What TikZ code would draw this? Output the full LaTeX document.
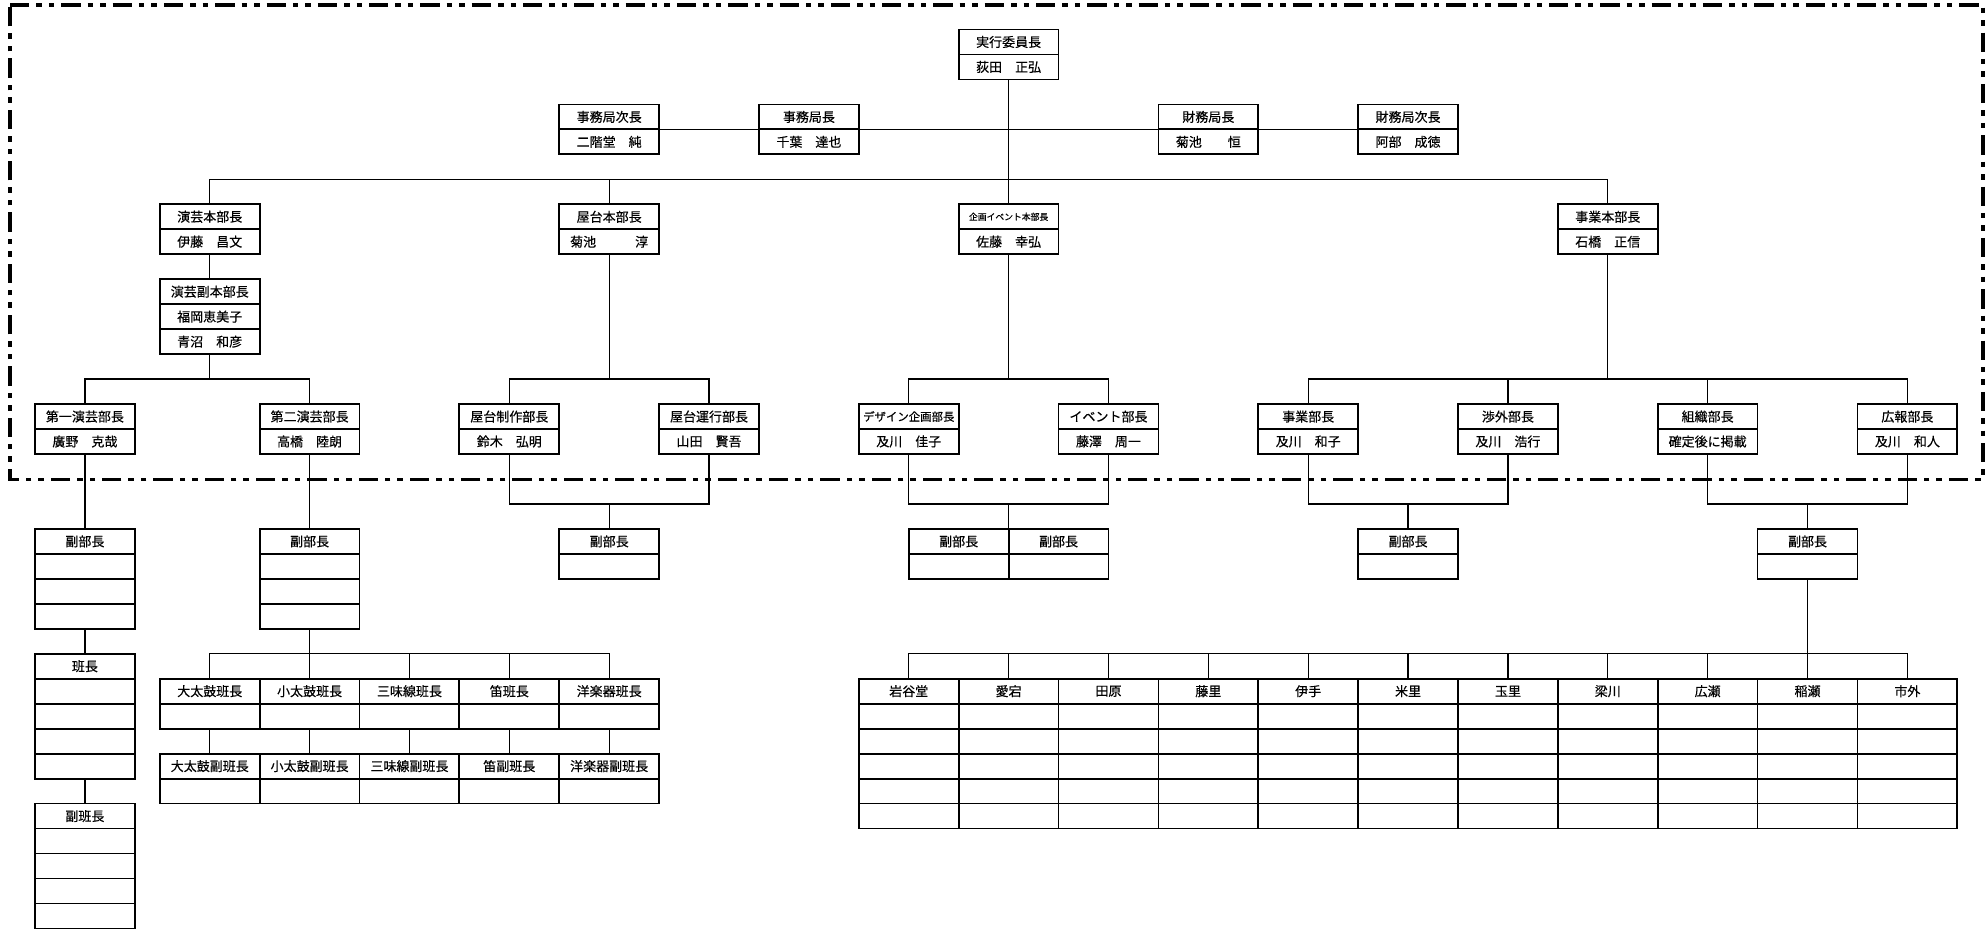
\documentclass[tikz,border=0pt]{standalone}
\usepackage{fontspec}
\setmainfont{Noto Sans CJK JP}[FakeBold=0.4]
\newcommand\obox[5]{%
  \node[cell] (#1) at (#2,#3) {#4};
  \node[cell] (#1n) at (#2,#3+1) {#5};}
\begin{document}
\begin{tikzpicture}[x=49.93pt, y=-12.485pt,
  cell/.style={draw, line width=0.9pt, fill=white, minimum width=49.93pt, minimum height=12.485pt,
    inner sep=0pt, outer sep=0pt, anchor=north west, font=\fontsize{6.5}{7}\selectfont},
  conn/.style={line width=0.6pt},
  border/.style={line width=1.6pt, dash pattern=on 9.65pt off 3.5pt on 2.75pt off 3.5pt on 2.75pt off 3.5pt}]
\useasboundingbox (-1.6003,-1.1814) rectangle (18.2876,36.063);
% dash-dot-dot frame
\draw[border] (-1.5,-0.98) -- (18.258,-0.98) -- (18.258,18.02) -- (-1.5,18.02) -- cycle;

% top levels
\obox{jikko}{8}{0}{実行委員長}{荻田　正弘}
\obox{jimujicho}{4}{3}{事務局次長}{二階堂　純}
\obox{jimucho}{6}{3}{事務局長}{千葉　達也}
\obox{zaimucho}{10}{3}{財務局長}{菊池　　恒}
\obox{zaimujicho}{12}{3}{財務局次長}{阿部　成徳}
\obox{engei}{0}{7}{演芸本部長}{伊藤　昌文}
\obox{yatai}{4}{7}{屋台本部長}{菊池　　　淳}
\obox{kikaku}{8}{7}{{\fontsize{4.4}{5}\selectfont 企画イベント本部長}}{佐藤　幸弘}
\obox{jigyo}{14}{7}{事業本部長}{石橋　正信}
\node[cell] (fuku) at (0,10) {演芸副本部長};
\node[cell] (fuku1) at (0,11) {福岡恵美子};
\node[cell] (fuku2) at (0,12) {青沼　和彦};

% bucho row
\obox{dai1}{-1.25}{15}{第一演芸部長}{廣野　克哉}
\obox{dai2}{1}{15}{第二演芸部長}{高橋　陸朗}
\obox{seisaku}{3}{15}{屋台制作部長}{鈴木　弘明}
\obox{unko}{5}{15}{屋台運行部長}{山田　賢吾}
\obox{design}{7}{15}{{\fontsize{5.7}{6}\selectfont デザイン企画部長}}{及川　佳子}
\obox{event}{9}{15}{イベント部長}{藤澤　周一}
\obox{jigyobu}{11}{15}{事業部長}{及川　和子}
\obox{shogai}{13}{15}{渉外部長}{及川　浩行}
\obox{soshiki}{15}{15}{組織部長}{確定後に掲載}
\obox{koho}{17}{15}{広報部長}{及川　和人}

% fukubucho boxes
\node[cell] (fk1) at (-1.25,20) {副部長};
\foreach \r in {21,22,23} \node[cell] (fk1-\r) at (-1.25,\r) {};
\node[cell] (fk2) at (1,20) {副部長};
\foreach \r in {21,22,23} \node[cell] (fk2-\r) at (1,\r) {};
\node[cell] (fkyatai) at (4,20) {副部長};
\node[cell] (fkyatai-21) at (4,21) {};
\node[cell] (fkkikaku1) at (7.5,20) {副部長};
\node[cell] (fkkikaku2) at (8.5,20) {副部長};
\node[cell] (fkkikaku1-21) at (7.5,21) {};
\node[cell] (fkkikaku2-21) at (8.5,21) {};
\node[cell] (fkjigyo) at (12,20) {副部長};
\node[cell] (fkjigyo-21) at (12,21) {};
\node[cell] (fksoshiki) at (16,20) {副部長};
\node[cell] (fksoshiki-21) at (16,21) {};

% hancho column
\node[cell] (han) at (-1.25,25) {班長};
\foreach \r in {26,...,29} \node[cell] (han-\r) at (-1.25,\r) {};
\node[cell] (fukuhan) at (-1.25,31) {副班長};
\foreach \r in {32,...,35} \node[cell] (fukuhan-\r) at (-1.25,\r) {};

% instrument groups
\foreach \i/\t/\s in {1/大太鼓班長/大太鼓副班長, 2/小太鼓班長/小太鼓副班長, 3/三味線班長/三味線副班長, 4/笛班長/笛副班長, 5/洋楽器班長/洋楽器副班長}{
  \node[cell] (ins\i) at (\i-1,26) {\t};
  \node[cell] (ins\i-27) at (\i-1,27) {};
  \node[cell] (sub\i) at (\i-1,29) {\s};
  \node[cell] (sub\i-30) at (\i-1,30) {};
}

% district table
\foreach \i/\t in {1/岩谷堂, 2/愛宕, 3/田原, 4/藤里, 5/伊手, 6/米里, 7/玉里, 8/梁川, 9/広瀬, 10/稲瀬, 11/市外}{
  \node[cell] (tb\i) at (\i+6,26) {\t};
  \foreach \r in {27,...,31} \node[cell] (tb\i-\r) at (\i+6,\r) {};
}

% connectors
\draw[conn] (jikkon.south) -- (kikaku.north);
\draw[conn] (jimujicho.south east) -- (jimucho.south west);
\draw[conn] (jimucho.south east) -- (zaimucho.south west);
\draw[conn] (zaimucho.south east) -- (zaimujicho.south west);
\draw[conn] (engei.north) -- ++(0,-1) -| (jigyo.north);
\draw[conn] (yatai.north) -- ++(0,-1);
\draw[conn] (engein.south) -- (fuku.north);
\draw[conn] (fuku2.south) -- ++(0,1);
\draw[conn] (dai1.north) -- ++(0,-1) -| (dai2.north);
\draw[conn] (yatain.south) -- ++(0,5);
\draw[conn] (seisaku.north) -- ++(0,-1) -| (unko.north);
\draw[conn] (kikakun.south) -- ++(0,5);
\draw[conn] (design.north) -- ++(0,-1) -| (event.north);
\draw[conn] (jigyon.south) -- ++(0,5);
\draw[conn] (jigyobu.north) -- ++(0,-1) -| (koho.north);
\draw[conn] (shogai.north) -- ++(0,-1);
\draw[conn] (soshiki.north) -- ++(0,-1);
\draw[conn] (seisakun.south) -- ++(0,2) -| (unkon.south);
\draw[conn] (fkyatai.north) -- ++(0,-1);
\draw[conn] (designn.south) -- ++(0,2) -| (eventn.south);
\draw[conn] (fkkikaku1.north east) -- ++(0,-1);
\draw[conn] (jigyobun.south) -- ++(0,2) -| (shogain.south);
\draw[conn] (fkjigyo.north) -- ++(0,-1);
\draw[conn] (soshikin.south) -- ++(0,2) -| (kohon.south);
\draw[conn] (fksoshiki.north) -- ++(0,-1);
\draw[conn] (dai1n.south) -- (fk1.north);
\draw[conn] (dai2n.south) -- (fk2.north);
\draw[conn] (fk1-23.south) -- (han.north);
\draw[conn] (han-29.south) -- (fukuhan.north);
\draw[conn] (fk2-23.south) -- ++(0,1);
\draw[conn] (ins1.north) -- ++(0,-1) -| (ins5.north);
\foreach \i in {2,3,4} \draw[conn] (ins\i.north) -- ++(0,-1);
\foreach \i in {1,...,5} \draw[conn] (ins\i-27.south) -- (sub\i.north);
\draw[conn] (fksoshiki-21.south) -- ++(0,3);
\draw[conn] (tb1.north) -- ++(0,-1) -| (tb11.north);
\foreach \i in {2,...,10} \draw[conn] (tb\i.north) -- ++(0,-1);
\end{tikzpicture}
\end{document}
